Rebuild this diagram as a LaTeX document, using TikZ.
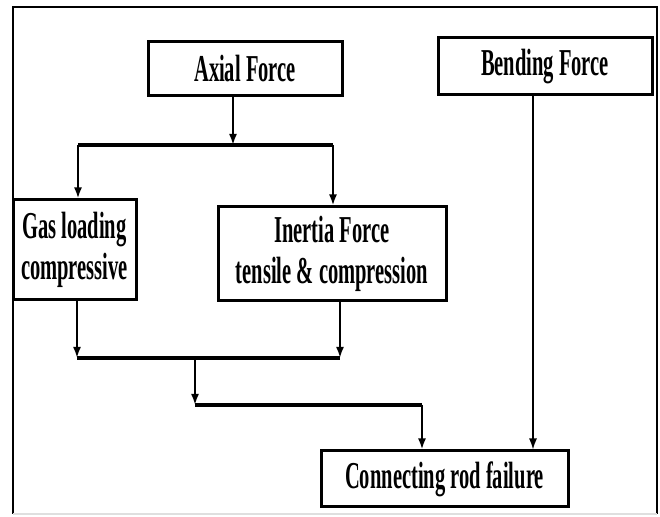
\documentclass[tikz,border=0pt]{standalone}
\usepackage{fontspec}
\setmainfont{Liberation Serif}[FakeStretch=0.54]
\usetikzlibrary{arrows.meta, positioning}

\begin{document}
\begin{tikzpicture}[
    x=0.5pt, y=-0.5pt,
    >={Latex[length=5.5pt,width=4pt]},
    font=\fontsize{19}{20.5}\selectfont\bfseries,
    box/.style={
        draw,
        line width=1.5pt,
        inner sep=0pt,
        align=center
    },
    feed/.style={->, line width=1pt},
    bus/.style={line width=1.8pt}
]
\useasboundingbox (0,0) rectangle (660,517);
% outer frame
\draw[line width=1pt] (13,514) -- (13,7) -- (657,7) -- (657,514);
\draw[gray!25, line width=0.6pt] (13,514) -- (657,514);

\node[box, minimum width=97pt, minimum height=27pt] (axial) at (245,69) {Axial Force};
\node[box, minimum width=107pt, minimum height=28.5pt] (bending) at (545,66.5) {Bending Force};
\node[box, minimum width=61.5pt, minimum height=50pt] (gas) at (74.5,250) {Gas loading\\compressive};
\node[box, minimum width=114pt, minimum height=47pt] (inertia) at (332,254) {Inertia Force\\tensile \& compression};
\node[box, minimum width=123.5pt, minimum height=28pt] (failure) at (444.5,479) {Connecting rod failure};

% split of the axial force
\coordinate (split) at (233,145);
\coordinate (gasin) at (78,145);
\coordinate (inin) at (333,145);
\draw[feed] (axial.south -| split) -- (split);
\draw[bus] (gasin) -- (inin);
\draw[feed] (gasin) -- (gasin |- gas.north);
\draw[feed] (inin) -- (inin |- inertia.north);

% join towards the failure
\coordinate (gasout) at (77,358);
\coordinate (inout) at (340,358);
\coordinate (merge) at (195,358);
\coordinate (elbow) at (195,405);
\coordinate (turn) at (422,405);
\draw[feed] (gas.south -| gasout) -- (gasout);
\draw[feed] (inertia.south -| inout) -- (inout);
\draw[bus] (gasout) -- (inout);
\draw[feed] (merge) -- (elbow);
\draw[bus] (elbow) -- (turn);
\draw[feed] (turn) -- (turn |- failure.north);

% bending force
\coordinate (bendx) at (533,95);
\draw[->, line width=0.7pt] (bending.south -| bendx) -- (bendx |- failure.north);
\end{tikzpicture}
\end{document}
